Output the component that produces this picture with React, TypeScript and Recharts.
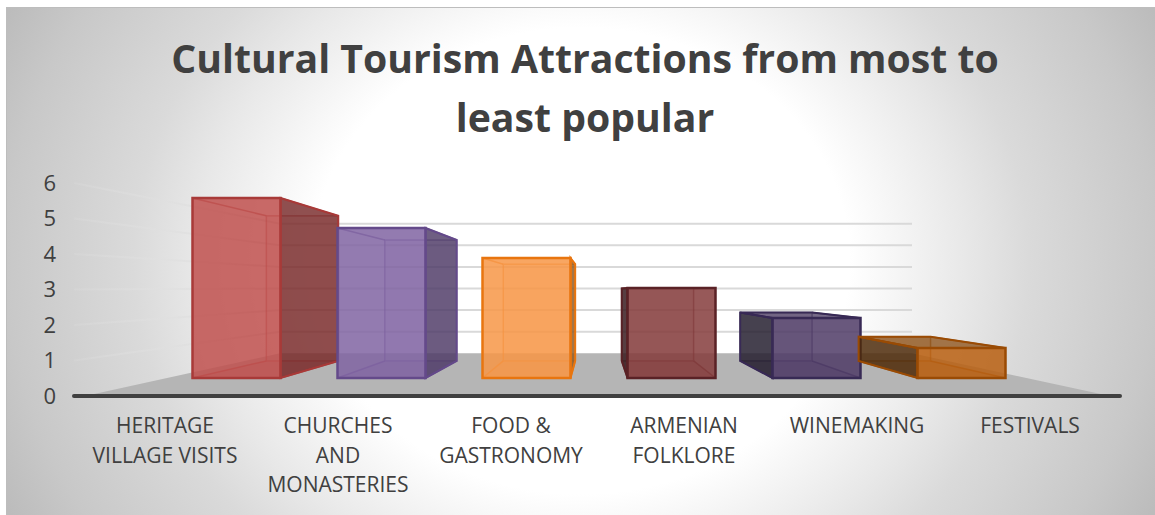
import { Bar, BarChart, XAxis, YAxis } from "recharts";

const categories = [
  "HERITAGE VILLAGE VISITS",
  "CHURCHES AND MONASTERIES",
  "FOOD & GASTRONOMY",
  "ARMENIAN FOLKLORE",
  "WINEMAKING",
  "FESTIVALS",
];
const tickLines = [
  ["HERITAGE", "VILLAGE VISITS"],
  ["CHURCHES", "AND", "MONASTERIES"],
  ["FOOD &", "GASTRONOMY"],
  ["ARMENIAN", "FOLKLORE"],
  ["WINEMAKING"],
  ["FESTIVALS"],
];
const popularity = [6, 5, 4, 3, 2, 1];
const yTicks = [0, 1, 2, 3, 4, 5, 6];

const faceColors = ["#c0504d", "#8064a2", "#f79646", "#853c3c", "#4f3b66", "#b85f10"];
const edgeColors = ["#a83a38", "#644a8a", "#e8750f", "#5a2226", "#382a55", "#9a4b04"];
const sideColors = ["#772a2a", "#4e3b66", "#8f5a24", "#35181c", "#221c2c", "#4a2808"];
const topColors = ["#772a2a", "#4e3b66", "#8f5a24", "#35181c", "#4a3a60", "#8a4c12"];

const data = categories.map((name, i) => ({ name, value: popularity[i] }));

const WIDTH = 1155;
const HEIGHT = 515;
const TEXT = "#404040";
const FONT = "'Open Sans', sans-serif";

// plot box, and the planes of the 3D room inside it
const PLOT = { left: 74, right: 1120, top: 183, bottom: 396 };
const WALL = { left: 280, right: 912, floor: 353.3, unit: 21.6 };
const wallY = (v: number) => WALL.floor - v * WALL.unit;
const axisY = (v: number) =>
  PLOT.bottom - (v * (PLOT.bottom - PLOT.top)) / 6;

// one point perspective used to push a bar's front face back into the room
const VANISH = { x: 596, y: 290, rx: 0.817, ry: 0.806 };
const backX = (x: number) => VANISH.x + (x - VANISH.x) * VANISH.rx;
const backY = (y: number) => VANISH.y + (y - VANISH.y) * VANISH.ry;

const pts = (list: number[][]) => list.map((p) => p.join(",")).join(" ");

function Room() {
  return (
    <g>
      <defs>
        {/* side wall grid lines fade out towards the value labels */}
        <linearGradient id="sideWall" gradientUnits="userSpaceOnUse" x1={PLOT.left} y1={0} x2={WALL.left} y2={0}>
          <stop offset="0" stopColor="#e4e4e4" stopOpacity={0.15} />
          <stop offset="1" stopColor="#d9d9d9" stopOpacity={1} />
        </linearGradient>
      </defs>
      <polygon
        points={pts([
          [PLOT.left + 11, PLOT.bottom],
          [PLOT.right - 10, PLOT.bottom],
          [WALL.right, WALL.floor],
          [WALL.left, WALL.floor],
        ])}
        fill="#b5b5b5"
      />
      {yTicks.slice(1).map((v) => (
        <g key={v} strokeWidth={2}>
          <line x1={PLOT.left} y1={axisY(v)} x2={WALL.left} y2={wallY(v)} stroke="url(#sideWall)" />
          <line x1={WALL.left} y1={wallY(v)} x2={WALL.right} y2={wallY(v)} stroke="#d9d9d9" />
        </g>
      ))}
    </g>
  );
}

function Box(props: any) {
  const { x, y, width, height, index } = props;
  const x0 = x;
  const x1 = x + width;
  const y0 = y;
  const y1 = y + height;
  const bx0 = backX(x0);
  const bx1 = backX(x1);
  const by0 = backY(y0);
  const by1 = backY(y1);
  const edge = edgeColors[index];

  // only the side that sticks out past the front face gets the dark shade
  const side =
    bx1 > x1
      ? [[x1, y0], [bx1, by0], [bx1, by1], [x1, y1]]
      : bx0 < x0
        ? [[x0, y0], [bx0, by0], [bx0, by1], [x0, y1]]
        : null;
  const top =
    by0 < y0 ? [[x0, y0], [x1, y0], [bx1, by0], [bx0, by0]] : null;

  return (
    <g>
      <rect x={bx0} y={by0} width={bx1 - bx0} height={by1 - by0} fill={faceColors[index]} fillOpacity={0.12} stroke={edge} strokeWidth={1.5} strokeOpacity={0.6} />
      <polygon points={pts([[x0, y1], [x1, y1], [bx1, by1], [bx0, by1]])} fill={faceColors[index]} fillOpacity={0.25} />
      {side && <polygon points={pts(side)} fill={sideColors[index]} fillOpacity={0.82} stroke={edge} strokeWidth={2} />}
      {top && <polygon points={pts(top)} fill={topColors[index]} fillOpacity={0.75} stroke={edge} strokeWidth={2} />}
      <g stroke={edge} strokeWidth={1.5} strokeOpacity={0.75}>
        <line x1={x0} y1={y0} x2={bx0} y2={by0} />
        <line x1={x1} y1={y0} x2={bx1} y2={by0} />
        <line x1={x0} y1={y1} x2={bx0} y2={by1} />
        <line x1={x1} y1={y1} x2={bx1} y2={by1} />
      </g>
      <rect x={x0} y={y0} width={width} height={height} fill={faceColors[index]} fillOpacity={0.85} stroke={edge} strokeWidth={2.5} />
    </g>
  );
}

function CategoryTick(props: any) {
  const { x, y, index } = props;
  return (
    <text x={x} y={y} textAnchor="middle" fontFamily={FONT} fontSize={21} fill={TEXT}>
      {tickLines[index].map((line, i) => (
        <tspan key={line} x={x} dy={i === 0 ? 29 : 29.5}>
          {line}
        </tspan>
      ))}
    </text>
  );
}

export default function App() {
  return (
    <div
      style={{
        position: "absolute",
        left: 0,
        top: 0,
        width: WIDTH,
        height: HEIGHT,
        background: "#fff",
        overflow: "hidden",
      }}
    >
      <div
        style={{
          position: "absolute",
          left: 6,
          top: 7,
          width: WIDTH - 6,
          height: HEIGHT - 7,
          boxSizing: "border-box",
          borderTop: "1.5px solid #bdbdbd",
          borderLeft: "1.5px solid #bdbdbd",
          background:
            "radial-gradient(ellipse 640px 555px at 574px 253px, #ffffff 0%, #ffffff 42%, #e8e8e8 60%, #dadada 70%, #c8c8c8 90%, #bcbcbc 100%)",
        }}
      />
      <div
        style={{
          position: "absolute",
          left: 0,
          top: 27.5,
          width: 1170,
          textAlign: "center",
          fontFamily: FONT,
          fontWeight: 700,
          fontSize: 39.2,
          lineHeight: "59px",
          color: TEXT,
        }}
      >
        Cultural Tourism Attractions from most to
        <br />
        least popular
      </div>
      <div style={{ position: "absolute", left: 0, top: 0 }}>
        <BarChart
          width={WIDTH}
          height={HEIGHT}
          data={data}
          margin={{ top: PLOT.top, right: WIDTH - PLOT.right, bottom: 0, left: 0 }}
        >
          <Room />
          <XAxis
            xAxisId="labels"
            dataKey="name"
            height={HEIGHT - PLOT.bottom}
            interval={0}
            padding={{ left: 4.5, right: 3.5 }}
            tickLine={false}
            tick={<CategoryTick />}
            axisLine={{ stroke: TEXT, strokeWidth: 4, strokeLinecap: "round" }}
          />
          <XAxis
            xAxisId="front"
            dataKey="name"
            hide
            height={0}
            padding={{ left: 89.5, right: 86.5 }}
          />
          <YAxis
            yAxisId="labels"
            type="number"
            width={PLOT.left}
            domain={[0, 6]}
            allowDataOverflow
            ticks={yTicks}
            interval={0}
            axisLine={false}
            tickLine={false}
            tickSize={0}
            tickMargin={18}
            tick={{ fill: TEXT, fontSize: 22, fontFamily: FONT }}
          />
          {/* front plane of the boxes: 30px per unit, resting above the axis */}
          <YAxis yAxisId="front" hide width={0} domain={[-0.6, 6.5]} allowDataOverflow />
          <Bar
            dataKey="value"
            xAxisId="front"
            yAxisId="front"
            barSize={88}
            isAnimationActive={false}
            shape={<Box />}
          />
        </BarChart>
      </div>
    </div>
  );
}
